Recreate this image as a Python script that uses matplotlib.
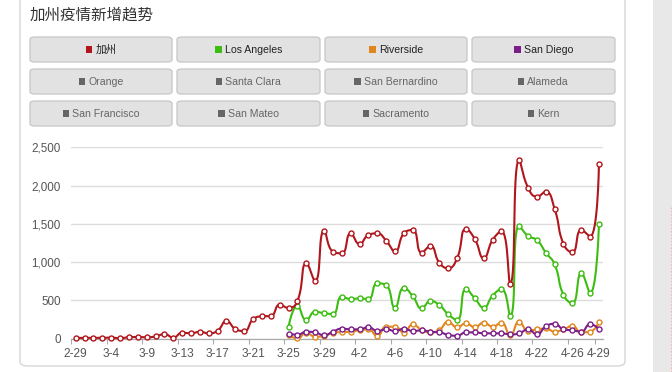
import matplotlib
matplotlib.use('Agg')
import matplotlib.pyplot as plt
import numpy as np
from matplotlib.patches import FancyBboxPatch, Rectangle
from matplotlib.lines import Line2D

plt.rcParams['font.family'] = ['Liberation Sans', 'Noto Sans CJK SC', 'DejaVu Sans']

# ---------------- data ----------------
dates = (['2-29', '3-1', '3-2', '3-3', '3-4', '3-5', '3-7', '3-8']
         + ['3-%d' % d for d in range(9, 32)]
         + ['4-%d' % d for d in range(1, 30)])

california = [10, 10, 10, 12, 15, 5, 20, 22, 18, 30,
              60, 15, 78, 70, 90, 70, 105, 231, 127, 100,
              253, 292, 296, 444, 401, 492, 985, 754, 1411, 1137,
              1115, 1376, 1237, 1354, 1376, 1280, 1140, 1376, 1420, 1124,
              1211, 993, 919, 1050, 1433, 1302, 1050, 1289, 1405, 718,
              2334, 1973, 1855, 1920, 1694, 1237, 1128, 1420, 1332, 2282]

los_angeles = [None] * 24 + [157, 427, 244, 353, 332, 323, 549, 518, 527, 518,
                             723, 701, 405, 666, 557, 397, 492, 440, 318, 244,
                             649, 527, 405, 562, 649, 298, 1476, 1341, 1289, 1124,
                             972, 571, 462, 854, 593, 1498]

riverside = [None] * 24 + [45, 5, 78, 26, 35, 78, 87, 91, 113, 122,
                           35, 157, 157, 78, 187, 113, 82, 113, 222, 148,
                           200, 148, 210, 157, 210, 45, 222, 105, 122, 135,
                           92, 122, 166, 83, 92, 214]

san_diego = [None] * 24 + [65, 52, 91, 83, 44, 91, 131, 122, 122, 152,
                           100, 122, 100, 131, 100, 109, 91, 85, 48, 39,
                           83, 83, 70, 70, 70, 55, 70, 122, 57, 160,
                           195, 122, 110, 92, 190, 127]

series_names = ['加州', 'Los Angeles', 'Riverside', 'San Diego']
series_colors = ['#b0161c', '#3dbd12', '#e0861c', '#7c1e88']

y_ticks = [0, 500, 1000, 1500, 2000, 2500]
label_idx = [0, 4, 8, 12, 16, 20, 24, 28, 32, 36, 40, 44, 48, 52, 56, 59]

button_labels = ['加州', 'Los Angeles', 'Riverside', 'San Diego',
                 'Orange', 'Santa Clara', 'San Bernardino', 'Alameda',
                 'San Francisco', 'San Mateo', 'Sacramento', 'Kern']
button_colors = series_colors + ['#666666'] * 8
button_active = [True] * 4 + [False] * 8

title = '加州疫情新增趋势'

# ---------------- figure ----------------
W, H = 672, 372
fig = plt.figure(figsize=(W / 100, H / 100), dpi=100)
fig.patch.set_facecolor('white')


def fx(x):
    return x / W


def fy(y):
    return 1 - y / H


# right gray strip with faint dotted line
fig.patches.append(Rectangle((fx(653), 0), 1 - fx(653), 1, transform=fig.transFigure,
                             facecolor='#e8e8e8', edgecolor='none', zorder=0))
fig.lines.append(Line2D([fx(670.5), fx(670.5)], [fy(207), 0], transform=fig.transFigure,
                        color='#f2b8b8', lw=0.8, ls=(0, (1.5, 1.5)), zorder=0.5))
# card
fig.patches.append(FancyBboxPatch((fx(20), fy(366)), fx(625) - fx(20), fy(-20) - fy(366),
                                  boxstyle='round,pad=0,rounding_size=0.012',
                                  transform=fig.transFigure, facecolor='white',
                                  edgecolor='#d6d6d6', linewidth=1.0, zorder=1))

fig.text(fx(30), fy(15), title, fontsize=11.2, color='#333333', va='center', ha='left',
         family=['Noto Sans CJK SC'], zorder=5)

# buttons
col_x = [(30, 172), (177, 320), (325, 467), (472, 615)]
row_y = [(37, 62), (69, 94), (101, 126)]
renderer = fig.canvas.get_renderer()
for k, lab in enumerate(button_labels):
    r, c = divmod(k, 4)
    x0, x1 = col_x[c]
    y0, y1 = row_y[r]
    fig.patches.append(FancyBboxPatch((fx(x0), fy(y1)), fx(x1) - fx(x0), fy(y0) - fy(y1),
                                      boxstyle='round,pad=0,rounding_size=0.007',
                                      transform=fig.transFigure, facecolor='#e2e2e2',
                                      edgecolor='#c6c6c6', linewidth=0.9, zorder=2))
    tcol = '#222222' if button_active[k] else '#666666'
    t = fig.text(0, fy((y0 + y1) / 2 + 0.5), lab, fontsize=7.6, color=tcol, va='center',
                 ha='left', zorder=4)
    tw = t.get_window_extent(renderer).width
    sq = 6.5
    gap = 3
    total = sq + gap + tw
    cx = (x0 + x1) / 2
    sx = cx - total / 2
    t.set_x(fx(sx + sq + gap))
    yc = (y0 + y1) / 2
    fig.patches.append(Rectangle((fx(sx), fy(yc + sq / 2)), sq / W, sq / H,
                                 transform=fig.transFigure, facecolor=button_colors[k],
                                 edgecolor='none', zorder=4))

# ---------------- chart ----------------
ax_left, ax_right = 71.3, 603.4
ax_top, ax_bot = 147.3, 338.7
ax = fig.add_axes([fx(ax_left), fy(ax_bot), (ax_right - ax_left) / W, (ax_bot - ax_top) / H])
ax.set_zorder(10)
ax.set_facecolor('none')
n = len(dates)
ax.set_xlim(-0.5, n - 0.5)
ax.set_ylim(0, 2500)
px_x = (ax_right - ax_left) / n
px_y = (ax_bot - ax_top) / 2500.0


def echarts_smooth(xs, ys, smooth=0.5, steps=16):
    P = [(x * px_x, y * px_y) for x, y in zip(xs, ys)]
    outx, outy = [P[0][0]], [P[0][1]]
    cp0 = P[0]
    m = len(P)
    for k in range(1, m):
        prev = P[k - 1]
        x, y = P[k]
        if k >= m - 1:
            cp1 = (x, y)
            ncp0 = None
        else:
            nx, ny = P[k + 1]
            vx, vy = nx - prev[0], ny - prev[1]
            lp = np.hypot(x - prev[0], y - prev[1])
            ln = np.hypot(nx - x, ny - y)
            ratio = ln / (ln + lp)
            ncx = x + vx * smooth * ratio
            ncy = y + vy * smooth * ratio
            ncx = min(ncx, max(nx, x)); ncy = min(ncy, max(ny, y))
            ncx = max(ncx, min(nx, x)); ncy = max(ncy, min(ny, y))
            vx, vy = ncx - x, ncy - y
            c1x = x - vx * lp / ln
            c1y = y - vy * lp / ln
            c1x = min(c1x, max(prev[0], x)); c1y = min(c1y, max(prev[1], y))
            c1x = max(c1x, min(prev[0], x)); c1y = max(c1y, min(prev[1], y))
            vx, vy = x - c1x, y - c1y
            ncx = x + vx * ln / lp
            ncy = y + vy * ln / lp
            cp1 = (c1x, c1y)
            ncp0 = (ncx, ncy)
        t = np.linspace(0, 1, steps)[1:]
        bx = ((1 - t) ** 3 * prev[0] + 3 * (1 - t) ** 2 * t * cp0[0]
              + 3 * (1 - t) * t ** 2 * cp1[0] + t ** 3 * x)
        by = ((1 - t) ** 3 * prev[1] + 3 * (1 - t) ** 2 * t * cp0[1]
              + 3 * (1 - t) * t ** 2 * cp1[1] + t ** 3 * y)
        outx.extend(bx)
        outy.extend(by)
        cp0 = ncp0
    return np.array(outx) / px_x, np.array(outy) / px_y


all_series = [california, los_angeles, riverside, san_diego]
zorders = [6, 5, 3, 4]
for vals, col, z in zip(all_series, series_colors, zorders):
    idx = [i for i, v in enumerate(vals) if v is not None]
    vv = [vals[i] for i in idx]
    sx, sy = echarts_smooth(idx, vv)
    ax.plot(sx, sy, color=col, lw=1.5, zorder=z, solid_capstyle='round', clip_on=False)
    ax.plot(idx, vv, 'o', ms=3.6, mfc='white', mec=col, mew=1.0, zorder=z + 0.5, clip_on=False)

ax.set_yticks(y_ticks)
ax.set_yticklabels(['{:,}'.format(v) for v in y_ticks])
ax.yaxis.grid(True, color='#dcdcdc', lw=1.0, zorder=0)
ax.set_axisbelow(True)
ax.tick_params(axis='y', length=0, pad=7.5, labelsize=8.4, labelcolor='#555555')

ax.set_xticks(label_idx)
ax.set_xticklabels([dates[i] for i in label_idx])
ax.tick_params(axis='x', which='major', length=0, pad=6.5, labelsize=8.6, labelcolor='#555555')
ax.set_xticks([i - 0.5 for i in label_idx], minor=True)
ax.tick_params(axis='x', which='minor', length=3.6, width=0.8, color='#aaaaaa', direction='out')

for s in ['left', 'right', 'top']:
    ax.spines[s].set_visible(False)
ax.spines['bottom'].set_color('#aaaaaa')
ax.spines['bottom'].set_linewidth(0.9)

fig.savefig('out.png', dpi=100, facecolor='white')
